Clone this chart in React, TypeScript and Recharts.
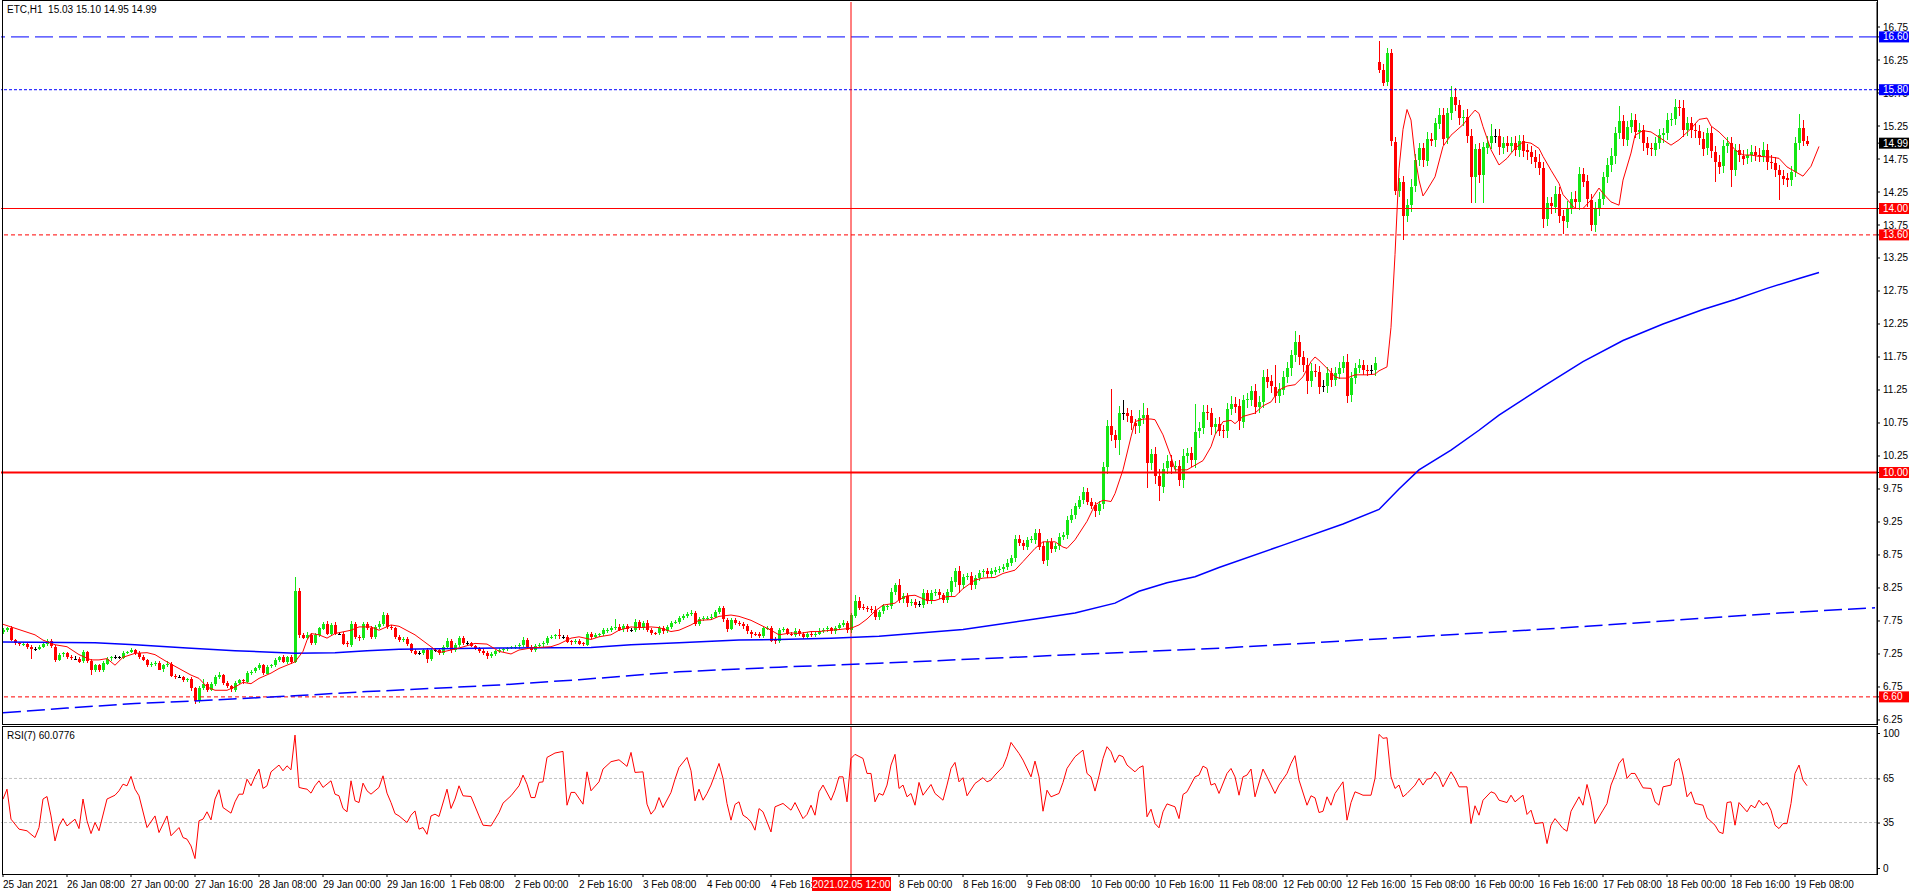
import React from "react";
import { ComposedChart, Bar, Line, XAxis, YAxis, ReferenceLine } from "recharts";

// ETC,H1 closes, one per hourly bar (weekends skipped), first bar 25 Jan 16:00
const CLOSE = [
  // 0
  7.61, 7.64, 7.46, 7.41, 7.39, 7.40, 7.36, 7.33, 7.33, 7.36, 7.40, 7.44, 7.36, 7.16, 7.24, 7.26,
  // 16
  7.20, 7.18, 7.18, 7.14, 7.28, 7.15, 7.01, 7.08, 7.00, 7.11, 7.18, 7.20, 7.20, 7.20, 7.27, 7.28,
  // 32
  7.31, 7.27, 7.21, 7.16, 7.08, 7.10, 7.12, 7.02, 7.08, 7.10, 6.92, 6.90, 6.90, 6.86, 6.87, 6.73,
  // 48
  6.54, 6.74, 6.80, 6.71, 6.80, 6.90, 6.93, 6.81, 6.76, 6.71, 6.81, 6.85, 6.83, 6.96, 6.98, 7.03,
  // 64
  7.08, 6.96, 7.06, 7.08, 7.16, 7.20, 7.13, 7.20, 7.13, 8.21, 7.54, 7.50, 7.54, 7.42, 7.54, 7.64,
  // 80
  7.71, 7.56, 7.69, 7.56, 7.56, 7.41, 7.39, 7.71, 7.51, 7.49, 7.70, 7.64, 7.51, 7.66, 7.71, 7.84,
  // 96
  7.66, 7.64, 7.51, 7.46, 7.48, 7.40, 7.30, 7.26, 7.26, 7.31, 7.18, 7.31, 7.31, 7.27, 7.36, 7.45,
  // 112
  7.31, 7.39, 7.49, 7.41, 7.41, 7.37, 7.34, 7.30, 7.27, 7.22, 7.25, 7.29, 7.31, 7.32, 7.34, 7.35,
  // 128
  7.36, 7.38, 7.46, 7.36, 7.31, 7.37, 7.39, 7.41, 7.49, 7.51, 7.53, 7.51, 7.51, 7.44, 7.43, 7.45,
  // 144
  7.41, 7.40, 7.56, 7.51, 7.54, 7.55, 7.61, 7.62, 7.65, 7.66, 7.62, 7.67, 7.62, 7.62, 7.74, 7.65,
  // 160
  7.72, 7.62, 7.57, 7.56, 7.64, 7.60, 7.66, 7.72, 7.73, 7.79, 7.82, 7.85, 7.87, 7.71, 7.78, 7.79,
  // 176
  7.80, 7.81, 7.88, 7.94, 7.77, 7.64, 7.77, 7.72, 7.70, 7.67, 7.59, 7.56, 7.55, 7.52, 7.64, 7.65,
  // 192
  7.46, 7.44, 7.61, 7.63, 7.56, 7.54, 7.60, 7.55, 7.51, 7.56, 7.54, 7.56, 7.60, 7.62, 7.64, 7.59,
  // 208
  7.64, 7.69, 7.72, 7.61, 7.84, 8.06, 7.96, 7.95, 7.93, 7.92, 7.81, 7.89, 7.97, 7.98, 8.19, 8.30,
  // 224
  8.08, 8.13, 8.02, 8.04, 8.00, 8.00, 8.18, 8.06, 8.17, 8.19, 8.14, 8.07, 8.19, 8.35, 8.51, 8.30,
  // 240
  8.42, 8.43, 8.30, 8.40, 8.48, 8.50, 8.45, 8.50, 8.53, 8.54, 8.57, 8.63, 8.70, 8.99, 8.93, 8.88,
  // 256
  8.98, 8.99, 9.09, 8.88, 8.66, 8.94, 8.84, 8.88, 9.02, 9.05, 9.28, 9.36, 9.49, 9.59, 9.71, 9.56,
  // 272
  9.50, 9.41, 9.52, 10.08, 10.70, 10.57, 10.49, 10.90, 10.90, 10.85, 10.75, 10.70, 10.82, 10.87, 10.14, 10.28,
  // 288
  9.94, 9.79, 10.06, 10.17, 10.08, 10.10, 9.89, 10.25, 10.29, 10.19, 10.62, 10.67, 10.92, 10.90, 10.69, 10.74,
  // 304
  10.64, 10.63, 10.96, 11.04, 11.00, 10.77, 11.10, 11.11, 11.24, 11.00, 11.07, 11.45, 11.38, 11.30, 11.16, 11.26,
  // 320
  11.45, 11.58, 11.78, 11.98, 11.75, 11.63, 11.39, 11.54, 11.53, 11.31, 11.31, 11.50, 11.40, 11.50, 11.59, 11.68,
  // 336
  11.17, 11.43, 11.58, 11.63, 11.56, 11.55, 11.55, 11.66, 16.10, 15.91, 16.35, 15.01, 14.27, 14.40, 13.88, 14.05,
  // 352
  14.33, 14.73, 14.91, 14.73, 15.06, 15.03, 15.29, 15.42, 15.06, 15.44, 15.69, 15.57, 15.37, 15.39, 15.10, 14.48,
  // 368
  14.90, 14.50, 14.93, 15.00, 15.10, 15.10, 14.93, 15.00, 14.95, 15.00, 14.90, 15.03, 14.88, 14.85, 14.78, 14.70,
  // 384
  14.61, 13.84, 14.08, 14.03, 14.22, 13.88, 13.80, 14.00, 14.15, 14.10, 14.53, 14.41, 14.13, 13.75, 14.00, 14.15,
  // 400
  14.48, 14.66, 14.79, 15.14, 15.32, 15.04, 15.24, 15.34, 15.16, 15.19, 14.99, 14.91, 14.89, 14.99, 15.11, 15.14,
  // 416
  15.34, 15.36, 15.54, 15.52, 15.19, 15.29, 15.19, 15.17, 15.06, 14.91, 15.14, 14.86, 14.71, 14.63, 14.94, 14.99,
  // 432
  14.58, 14.88, 14.80, 14.76, 14.81, 14.86, 14.81, 14.80, 14.89, 14.71, 14.69, 14.58, 14.50, 14.46, 14.43, 14.55,
  // 448
  14.99, 15.22, 15.03, 14.99,
];

// upper / lower wick length above / below the body, in cents
const UP_WICK = [
  3, 2, 4, 2, 2, 3, 2, 2, 3, 2, 3, 4, 3, 2, 3, 2,
  2, 3, 4, 2, 3, 2, 3, 2, 2, 3, 2, 2, 3, 2, 3, 2,
  3, 2, 2, 3, 2, 3, 2, 3, 2, 4, 3, 2, 3, 2, 2, 3,
  2, 3, 7, 3, 2, 3, 4, 2, 3, 2, 3, 2, 2, 3, 2, 3,
  3, 2, 3, 2, 3, 2, 3, 2, 3, 21, 4, 3, 4, 3, 3, 2,
  3, 4, 3, 5, 3, 2, 3, 4, 3, 3, 3, 4, 3, 3, 4, 5,
  3, 3, 2, 3, 3, 3, 2, 3, 3, 2, 3, 2, 3, 2, 3, 4,
  3, 2, 3, 3, 3, 2, 2, 2, 3, 2, 3, 2, 3, 2, 2, 2,
  2, 3, 4, 3, 2, 3, 2, 3, 3, 2, 3, 10, 3, 3, 2, 3,
  2, 2, 3, 3, 3, 2, 3, 3, 3, 12, 4, 3, 3, 3, 4, 3,
  3, 4, 3, 2, 3, 3, 3, 3, 4, 3, 3, 3, 4, 3, 3, 3,
  3, 4, 3, 4, 4, 3, 2, 3, 3, 4, 3, 3, 2, 3, 4, 3,
  3, 4, 3, 3, 2, 3, 4, 3, 3, 2, 3, 3, 4, 3, 3, 2,
  3, 3, 4, 3, 3, 8, 5, 4, 3, 4, 5, 3, 4, 3, 6, 2,
  8, 4, 5, 4, 4, 5, 6, 4, 5, 4, 5, 4, 5, 6, 5, 8,
  4, 5, 6, 4, 5, 4, 5, 6, 4, 5, 4, 6, 5, 7, 6, 5,
  4, 5, 6, 5, 6, 5, 7, 5, 6, 5, 6, 8, 5, 6, 7, 6,
  5, 6, 5, 8, 9, 56, 8, 10, 20, 8, 10, 6, 12, 18, 10, 8,
  10, 12, 8, 9, 10, 8, 9, 10, 8, 10, 42, 10, 10, 10, 8, 9,
  10, 8, 10, 12, 10, 12, 8, 10, 7, 10, 9, 10, 12, 10, 33, 10,
  9, 10, 8, 17, 10, 9, 10, 12, 10, 8, 9, 10, 9, 10, 8, 9,
  12, 10, 8, 9, 8, 7, 8, 9, 32, 9, 8, 7, 8, 6, 10, 10,
  12, 9, 9, 8, 10, 9, 8, 10, 11, 9, 17, 13, 7, 10, 12, 10,
  8, 10, 8, 10, 18, 10, 10, 9, 10, 9, 10, 8, 9, 10, 9, 10,
  12, 10, 9, 10, 12, 10, 9, 12, 10, 12, 10, 9, 10, 9, 10, 10,
  8, 10, 12, 9, 24, 10, 9, 10, 9, 10, 8, 10, 9, 10, 9, 8,
  10, 8, 12, 10, 12, 10, 9, 10, 9, 10, 8, 10, 9, 10, 10, 9,
  10, 9, 10, 8, 9, 10, 9, 10, 12, 9, 10, 9, 8, 9, 8, 9,
  10, 21, 12, 7,
];

const DOWN_WICK = [
  2, 3, 2, 3, 2, 2, 3, 15, 3, 2, 2, 3, 2, 3, 2, 3,
  3, 2, 2, 3, 2, 4, 8, 3, 2, 3, 2, 3, 2, 3, 2, 2,
  2, 3, 3, 2, 3, 2, 3, 2, 4, 3, 2, 3, 2, 3, 3, 4,
  5, 4, 3, 3, 2, 4, 3, 3, 2, 4, 3, 2, 3, 2, 3, 2,
  2, 3, 2, 3, 2, 3, 2, 3, 3, 2, 5, 3, 3, 4, 3, 3,
  3, 3, 4, 3, 3, 3, 3, 4, 3, 4, 3, 3, 4, 3, 3, 3,
  3, 2, 3, 3, 3, 3, 4, 3, 3, 3, 7, 3, 3, 3, 3, 3,
  4, 3, 3, 3, 3, 2, 3, 3, 3, 4, 3, 3, 2, 3, 3, 2,
  3, 3, 3, 4, 3, 3, 2, 3, 3, 2, 3, 3, 3, 3, 4, 3,
  3, 3, 3, 3, 2, 3, 3, 4, 3, 3, 2, 3, 3, 4, 3, 3,
  4, 3, 4, 3, 3, 4, 3, 3, 2, 3, 3, 3, 3, 4, 3, 3,
  3, 3, 2, 3, 4, 5, 3, 3, 3, 4, 4, 7, 3, 3, 3, 3,
  3, 4, 3, 3, 3, 2, 3, 3, 4, 3, 3, 3, 2, 3, 3, 3,
  3, 3, 3, 4, 4, 4, 5, 4, 4, 5, 5, 4, 4, 5, 5, 4,
  6, 5, 6, 4, 5, 4, 5, 6, 5, 4, 5, 4, 5, 6, 8, 12,
  6, 5, 8, 6, 5, 6, 5, 4, 6, 5, 5, 4, 5, 6, 5, 6,
  5, 5, 8, 6, 5, 8, 6, 5, 6, 5, 6, 5, 6, 5, 6, 5,
  6, 8, 6, 8, 10, 10, 12, 22, 10, 8, 10, 12, 10, 8, 37, 10,
  12, 22, 10, 9, 10, 9, 10, 12, 10, 10, 12, 10, 9, 10, 12, 10,
  9, 10, 10, 9, 10, 12, 10, 12, 10, 12, 10, 9, 10, 10, 11, 10,
  9, 10, 12, 10, 12, 10, 20, 10, 9, 12, 9, 10, 10, 9, 8, 9,
  11, 10, 9, 8, 8, 9, 8, 9, 5, 6, 5, 6, 7, 10, 36, 9,
  10, 8, 9, 10, 8, 9, 10, 9, 10, 9, 10, 9, 10, 12, 10, 39,
  39, 12, 41, 10, 10, 10, 12, 10, 10, 9, 10, 12, 10, 12, 10, 9,
  10, 14, 10, 12, 10, 10, 18, 10, 9, 10, 12, 9, 10, 9, 10, 12,
  10, 9, 10, 12, 9, 10, 9, 10, 9, 10, 12, 10, 9, 10, 9, 12,
  10, 9, 10, 12, 10, 9, 12, 10, 10, 12, 10, 9, 31, 10, 9, 10,
  25, 9, 10, 10, 9, 10, 9, 10, 10, 12, 9, 10, 37, 10, 10, 9,
  8, 10, 9, 4,
];

// opens that differ from the previous close (first bar, weekend gap)
const OPEN_FIXED: Record<number, number> = { 0: 7.58, 344: 16.22 };

// [bar, value]
const RED_MA = [
  [0, 7.70], [4, 7.62], [8, 7.54], [10, 7.46], [13, 7.39], [16, 7.36], [19, 7.24], [22, 7.16], [24, 7.16],
  [26, 7.18], [28, 7.08], [30, 7.20], [33, 7.26], [36, 7.27], [38, 7.24], [41, 7.13], [44, 7.03], [47, 6.93],
  [49, 6.88], [51, 6.75], [53, 6.70], [56, 6.70], [58, 6.75], [60, 6.82], [62, 6.80], [64, 6.88], [67, 6.96],
  [69, 7.03], [73, 7.13], [75, 7.29], [76, 7.46], [77, 7.56], [79, 7.54], [81, 7.49], [83, 7.56], [87, 7.61],
  [89, 7.66], [92, 7.66], [94, 7.61], [97, 7.69], [99, 7.67], [103, 7.54], [107, 7.36], [109, 7.27], [112, 7.31],
  [114, 7.34], [118, 7.41], [121, 7.40], [124, 7.29], [127, 7.25], [129, 7.31], [132, 7.34], [134, 7.35],
  [137, 7.36], [139, 7.40], [142, 7.49], [144, 7.51], [147, 7.47], [149, 7.51], [152, 7.54], [154, 7.61],
  [157, 7.66], [159, 7.65], [162, 7.66], [164, 7.65], [167, 7.59], [169, 7.61], [172, 7.69], [174, 7.76],
  [177, 7.77], [179, 7.82], [182, 7.84], [184, 7.82], [187, 7.76], [189, 7.70], [192, 7.61], [194, 7.54],
  [197, 7.57], [199, 7.56], [202, 7.59], [204, 7.59], [207, 7.61], [209, 7.62], [212, 7.64], [214, 7.69],
  [216, 7.78], [218, 7.90], [220, 7.99], [223, 8.02], [224, 8.07], [226, 8.13], [228, 8.14], [231, 8.06],
  [233, 8.06], [236, 8.12], [238, 8.12], [240, 8.24], [243, 8.37], [245, 8.40], [248, 8.41], [250, 8.47],
  [253, 8.52], [255, 8.65], [258, 8.85], [260, 8.95], [263, 8.95], [265, 8.87], [266, 8.85], [268, 8.98],
  [271, 9.26], [273, 9.51], [275, 9.58], [277, 9.56], [278, 9.68], [280, 10.04], [282, 10.54], [283, 10.77],
  [285, 10.81], [287, 10.81], [288, 10.80], [290, 10.57], [292, 10.24], [293, 10.04], [296, 10.04], [298, 10.11],
  [300, 10.18], [302, 10.39], [303, 10.57], [305, 10.77], [307, 10.79], [308, 10.74], [310, 10.85], [313, 10.90],
  [315, 11.01], [317, 11.07], [319, 11.25], [321, 11.31], [323, 11.33], [325, 11.45], [327, 11.68], [328, 11.75],
  [329, 11.70], [331, 11.58], [333, 11.45], [334, 11.43], [336, 11.43], [338, 11.48], [341, 11.48], [343, 11.49],
  [344, 11.54], [346, 11.60], [347, 12.20], [348, 13.30], [349, 14.60], [350, 15.20], [351, 15.50], [352, 15.34],
  [353, 14.79], [354, 14.43], [355, 14.19], [356, 14.28], [358, 14.48], [360, 14.94], [362, 15.11], [365, 15.27],
  [367, 15.42], [368, 15.49], [369, 15.44], [370, 15.24], [372, 14.89], [374, 14.66], [376, 14.76], [378, 14.91],
  [380, 15.01], [382, 14.99], [384, 14.91], [385, 14.79], [387, 14.58], [389, 14.38], [390, 14.21], [393, 14.00],
  [395, 14.00], [397, 14.13], [399, 14.31], [400, 14.23], [402, 14.10], [404, 14.05], [405, 14.43], [407, 14.84],
  [408, 15.11], [410, 15.18], [412, 15.16], [415, 15.04], [417, 14.96], [419, 15.04], [422, 15.21], [424, 15.35],
  [426, 15.37], [427, 15.25], [429, 15.16], [431, 15.04], [433, 14.89], [435, 14.81], [437, 14.81], [439, 14.79],
  [442, 14.78], [444, 14.76], [446, 14.63], [448, 14.56], [450, 14.49], [452, 14.64], [454, 14.94],
];

const BLUE_MA = [
  [0, 7.43], [23, 7.42], [33, 7.39], [46, 7.34], [58, 7.30], [73, 7.26], [83, 7.27], [91, 7.30], [99, 7.32],
  [124, 7.34], [147, 7.35], [157, 7.39], [169, 7.42], [184, 7.46], [194, 7.47], [207, 7.49], [219, 7.52],
  [240, 7.62], [258, 7.78], [268, 7.87], [278, 8.02], [284, 8.20], [291, 8.33], [298, 8.42], [304, 8.56],
  [320, 8.90], [335, 9.22], [344, 9.44], [349, 9.75], [354, 10.04], [362, 10.34], [369, 10.64], [374, 10.87],
  [385, 11.30], [395, 11.68], [405, 12.00], [415, 12.25], [425, 12.47], [433, 12.62], [441, 12.79], [449, 12.94],
  [454, 13.03],
];

const BLUE_DASH_MA = [
  [0, 6.36], [16, 6.43], [33, 6.50], [49, 6.54], [74, 6.62], [91, 6.68], [108, 6.73], [124, 6.78], [144, 6.86],
  [169, 6.98], [194, 7.05], [219, 7.11], [305, 7.34], [381, 7.61], [396, 7.67], [444, 7.87], [468, 7.95],
];

const RSI = [
  [0, 50.9], [1, 57.7], [2, 37.3], [4, 30.5], [6, 29.4], [7, 27], [8, 24.8], [9, 31.6], [10, 51], [11, 52.7],
  [12, 39.5], [13, 22.5], [14, 32.7], [15, 37.7], [16, 32.7], [18, 37.3], [19, 30.9], [20, 51], [21, 36.2],
  [22, 27.5], [23, 35], [24, 29.4], [26, 51], [28, 53.6], [29, 56.6], [30, 61.1], [31, 60], [32, 66.4], [33, 57.7],
  [34, 53.2], [36, 31.6], [38, 39.5], [39, 28.2], [41, 39.5], [42, 26], [44, 31.6], [45, 24.8], [46, 23.7],
  [47, 19.1], [48, 10.5], [49, 36.2], [50, 37.3], [51, 42.3], [52, 36.8], [53, 51], [54, 57.3], [55, 45.2],
  [57, 41.4], [58, 49.1], [59, 54.3], [60, 54.3], [61, 64.5], [62, 60], [63, 66.4], [64, 71.4], [65, 58.2],
  [66, 60], [67, 69.5], [69, 74.1], [70, 70.2], [71, 73.6], [72, 70.9], [73, 94.5], [74, 58.9], [75, 58.2],
  [76, 57.7], [77, 55], [78, 60], [79, 63.4], [80, 58.9], [82, 63.4], [83, 54.3], [84, 53.2], [85, 44.6],
  [86, 42.3], [87, 63.4], [88, 49.8], [89, 48.6], [90, 61.8], [91, 56.6], [92, 54.3], [94, 58.9], [95, 66.8],
  [96, 55], [97, 48.6], [98, 41.1], [99, 39.5], [101, 35], [102, 40], [103, 42.9], [104, 30.5], [105, 31.6],
  [106, 27], [107, 39.5], [108, 40.7], [109, 39.1], [111, 57.7], [112, 44.6], [113, 51], [114, 60], [115, 53.2],
  [117, 52.7], [119, 39.5], [120, 33.2], [122, 32.7], [124, 41.8], [125, 48.2], [127, 53.2], [129, 60],
  [130, 67.3], [131, 61.1], [132, 52], [133, 52], [134, 62.3], [135, 62.7], [136, 79.3], [138, 82.3], [140, 83.4],
  [141, 46.8], [142, 55.5], [143, 55.5], [145, 47.5], [146, 69.5], [147, 56.6], [149, 62.7], [150, 71.4],
  [152, 76.4], [154, 77.7], [156, 73.2], [157, 82.7], [158, 69.1], [160, 69.5], [161, 47.5], [162, 40.7],
  [163, 44.1], [164, 52], [165, 45.2], [167, 55.5], [168, 64.5], [169, 72.5], [171, 79.3], [172, 70.2],
  [173, 49.8], [174, 57.7], [175, 50.2], [176, 54.8], [177, 60.5], [179, 75.2], [180, 65], [181, 48], [182, 36.6],
  [183, 47.3], [184, 49.1], [185, 40], [186, 38.2], [187, 35.5], [188, 29.8], [189, 44.5], [190, 42.3],
  [192, 28.6], [193, 45.7], [195, 48], [196, 45.7], [197, 43.4], [198, 48.6], [200, 37.7], [201, 40.5],
  [202, 46.8], [203, 40], [204, 55.9], [205, 60.5], [207, 50.2], [208, 57], [209, 66.1], [210, 66.1], [211, 49.1],
  [212, 78.6], [213, 81.4], [215, 78.6], [216, 68.4], [217, 68.4], [218, 49.1], [219, 54.8], [220, 53.6],
  [221, 60.5], [222, 74.1], [223, 81.4], [224, 58.2], [225, 60.5], [226, 52.5], [227, 54.8], [228, 46.8],
  [229, 62.3], [230, 53.6], [232, 60.9], [233, 54.8], [235, 50.2], [236, 60.5], [237, 71.8], [238, 75.9],
  [239, 62.7], [240, 65.5], [241, 53.2], [243, 61.6], [245, 65.5], [246, 62.7], [247, 63.9], [248, 67.3],
  [250, 73], [251, 79.8], [252, 89.5], [254, 82], [255, 77.5], [257, 66.1], [258, 76.8], [259, 66.1], [260, 42.7],
  [261, 57], [262, 52.5], [264, 54.8], [265, 62.3], [266, 71.8], [267, 75.9], [268, 79.8], [270, 84.3],
  [271, 68.4], [272, 66.1], [273, 56.4], [274, 66.8], [275, 78.6], [276, 86.6], [277, 83.2], [278, 75.9],
  [279, 80.9], [280, 79.8], [281, 74.1], [283, 69.5], [284, 72.3], [285, 73.6], [286, 38.9], [287, 44.1],
  [288, 34.3], [289, 31.4], [290, 42.3], [291, 47.7], [293, 45.7], [294, 37.7], [295, 54.1], [296, 55.9],
  [298, 66.1], [299, 67.3], [300, 73.4], [301, 71.8], [302, 60.5], [303, 61.6], [304, 54.8], [306, 68.4],
  [307, 71.8], [308, 66.1], [309, 53.6], [310, 66.1], [311, 67.3], [312, 71.4], [313, 52.5], [315, 71.4],
  [316, 66.1], [318, 54.8], [319, 60.5], [321, 68.4], [322, 75.2], [323, 80.5], [324, 63.9], [326, 46.8],
  [327, 53.2], [328, 51.8], [329, 41.8], [330, 42.7], [331, 52.5], [332, 46.8], [333, 54.8], [335, 62.7],
  [336, 36.6], [337, 48.6], [338, 55.9], [339, 54.8], [340, 53.6], [342, 53.6], [343, 65], [344, 95], [345, 92.3],
  [346, 92.7], [347, 66.1], [348, 58.2], [349, 60.5], [350, 52.5], [351, 54.8], [353, 60.5], [354, 65],
  [355, 60.5], [356, 64.5], [357, 65], [358, 69.5], [359, 66.1], [360, 59.3], [362, 69.5], [363, 65], [364, 59.3],
  [366, 59.3], [367, 34.3], [368, 46.4], [369, 40], [370, 50.2], [372, 55.9], [373, 54.8], [374, 50.2],
  [376, 48.6], [377, 53.6], [378, 49.1], [380, 53.6], [381, 40.5], [382, 43.4], [383, 34.3], [385, 35],
  [386, 20.7], [387, 33.2], [388, 37.7], [390, 30.9], [391, 29.1], [392, 42.7], [394, 52.5], [395, 46.8],
  [396, 60.9], [397, 50.2], [398, 34.3], [400, 43.4], [401, 47.9], [402, 60.5], [403, 67.3], [404, 75.2],
  [405, 78.6], [406, 65], [407, 68.4], [408, 68.4], [410, 58.6], [412, 58.2], [413, 49.1], [414, 46.8],
  [415, 59.3], [417, 60.5], [418, 76.4], [419, 78.6], [420, 67.3], [421, 52.5], [422, 55.9], [423, 48],
  [425, 46.8], [426, 38.2], [428, 33.2], [429, 28.6], [430, 27.5], [431, 48.6], [432, 49.1], [433, 33.2],
  [434, 48.6], [436, 42.3], [437, 46.8], [438, 45], [439, 50.2], [440, 46.8], [441, 48.6], [442, 43.4],
  [443, 33.2], [444, 30.9], [445, 34.3], [446, 34.3], [447, 48], [448, 68.4], [449, 74.1], [450, 63.9],
  [451, 60.08],
];

const X_TICKS = [0, 16, 32, 48, 64, 80, 96, 112, 128, 144, 160, 176, 192, 212, 224, 240, 256, 272, 288, 304,
  320, 336, 352, 368, 384, 400, 416, 432, 448];
const X_LABELS = ["25 Jan 2021", "26 Jan 08:00", "27 Jan 00:00", "27 Jan 16:00", "28 Jan 08:00", "29 Jan 00:00",
  "29 Jan 16:00", "1 Feb 08:00", "2 Feb 00:00", "2 Feb 16:00", "3 Feb 08:00", "4 Feb 00:00", "4 Feb 16:00",
  "2021.02.05 12:00", "8 Feb 00:00", "8 Feb 16:00", "9 Feb 08:00", "10 Feb 00:00", "10 Feb 16:00", "11 Feb 08:00",
  "12 Feb 00:00", "12 Feb 16:00", "15 Feb 08:00", "16 Feb 00:00", "16 Feb 16:00", "17 Feb 08:00", "18 Feb 00:00",
  "18 Feb 16:00", "19 Feb 08:00"];
const MARK_BAR = 212;

const PRICE_TICKS = [6.25, 6.75, 7.25, 7.75, 8.25, 8.75, 9.25, 9.75, 10.25, 10.75, 11.25, 11.75, 12.25, 12.75,
  13.25, 13.75, 14.25, 14.75, 15.25, 15.75, 16.25, 16.75];
const PRICE_TAGS = [
  { value: 16.6, bg: "#0000ff" },
  { value: 15.8, bg: "#0000ff" },
  { value: 14.99, bg: "#000000" },
  { value: 14.0, bg: "#ff0000" },
  { value: 13.6, bg: "#ff0000" },
  { value: 10.0, bg: "#ff0000" },
  { value: 6.6, bg: "#ff0000" },
];
const LEVELS = [
  { value: 16.6, color: "#0000ff", dash: "18 6", width: 1 },
  { value: 15.8, color: "#0000ff", dash: "3 2", width: 1 },
  { value: 14.0, color: "#ff0000", dash: undefined, width: 1 },
  { value: 13.6, color: "#ff0000", dash: "4 3", width: 1 },
  { value: 10.0, color: "#ff0000", dash: undefined, width: 2 },
  { value: 6.6, color: "#ff0000", dash: "4 3", width: 1 },
];
const RSI_TICKS = [100, 65, 35, 0];

const SLOTS = 469;
const GREEN = "#14e614";
const RED = "#ff0000";
const FONT = '"Liberation Sans", Arial, sans-serif';

const toMap = (pairs: number[][]) => {
  const m: Record<number, number> = {};
  pairs.forEach(([i, v]) => (m[i] = v));
  return m;
};
const maMap = toMap(RED_MA);
const smaMap = toMap(BLUE_MA);
const lmaMap = toMap(BLUE_DASH_MA);
const rsiMap = toMap(RSI);

const rows = Array.from({ length: SLOTS }, (_, i) => {
  const row: any = {
    i,
    ma: maMap[i] ?? null,
    sma: smaMap[i] ?? null,
    lma: lmaMap[i] ?? null,
    rsi: rsiMap[i] ?? null,
  };
  if (i < CLOSE.length) {
    const c = CLOSE[i];
    const o = OPEN_FIXED[i] ?? CLOSE[i - 1];
    const h = Math.max(o, c) + UP_WICK[i] / 100;
    const l = Math.min(o, c) - DOWN_WICK[i] / 100;
    Object.assign(row, { o, c, h, l, range: [l, h] });
  }
  return row;
});

function Candle(props: any) {
  const { x, y, width, height, payload } = props;
  if (!payload || payload.c == null || !height) return <g />;
  const { o, h, l, c } = payload;
  const k = height / (h - l);
  const cx = Math.round(x + width / 2);
  const yO = y + (h - o) * k;
  const yC = y + (h - c) * k;
  const color = c > o ? GREEN : c < o ? RED : "#000";
  const top = Math.round(Math.min(yO, yC));
  const bh = Math.max(1, Math.round(Math.abs(yO - yC)));
  return (
    <g shapeRendering="crispEdges">
      <line x1={cx + 0.5} x2={cx + 0.5} y1={y} y2={y + height} stroke={color} />
      {c === o ? (
        <line x1={cx - 1} x2={cx + 2} y1={Math.round(yO) + 0.5} y2={Math.round(yO) + 0.5} stroke="#000" />
      ) : (
        <rect x={cx - 1} y={top} width={3} height={bh} fill={color} />
      )}
    </g>
  );
}

function PriceTick(props: any) {
  const { x, y, payload } = props;
  const v = payload.value;
  const tag = PRICE_TAGS.find((t) => t.value === v);
  if (tag) {
    return (
      <g>
        <rect x={x - 4} y={y - 5.5} width={30} height={11} fill={tag.bg} />
        <text x={x} y={y} dy="0.35em" fill="#fff" fontSize={10} fontFamily={FONT}>
          {v.toFixed(2)}
        </text>
      </g>
    );
  }
  return (
    <text x={x} y={y} dy="0.35em" fill="#000" fontSize={10} fontFamily={FONT}>
      {v.toFixed(2)}
    </text>
  );
}

function RsiTick(props: any) {
  const { x, y, payload } = props;
  const v = payload.value;
  const yy = v === 100 ? y + 6 : v === 0 ? y - 6 : y;
  return (
    <g>
      <line x1={x - 6} x2={x - 3} y1={yy + 0.5} y2={yy + 0.5} stroke="#000" />
      <text x={x} y={yy} dy="0.35em" fill="#000" fontSize={10} fontFamily={FONT}>
        {v}
      </text>
    </g>
  );
}

function TimeTick(props: any) {
  const { x, y, payload } = props;
  const idx = X_TICKS.indexOf(payload.value);
  const text = X_LABELS[idx];
  if (payload.value === MARK_BAR) {
    return (
      <g>
        <rect x={x - 39} y={y - 2} width={79} height={14} fill="#ff0000" />
        <text x={x + 0.5} y={y + 9} textAnchor="middle" fill="#fff" fontSize={10} fontFamily={FONT}>
          {text}
        </text>
      </g>
    );
  }
  return (
    <text x={x} y={y + 9} fill="#000" fontSize={10} fontFamily={FONT}>
      {text}
    </text>
  );
}

export default function App() {
  return (
    <div style={{ position: "relative", width: 1916, height: 896, background: "#fff", overflow: "hidden" }}>
      <style>{`body{margin:0;overflow:hidden}`}</style>
      <div style={{ position: "absolute", left: 0, top: 0 }}>
        <ComposedChart width={1916} height={726} data={rows} margin={{ top: 2, right: 0, bottom: 2, left: 1 }}>
          <XAxis dataKey="i" type="number" domain={[-0.5, SLOTS - 0.5]} hide />
          <YAxis
            orientation="right"
            type="number"
            width={39}
            domain={[6.189, 17.129]}
            allowDataOverflow
            ticks={[...PRICE_TICKS, ...PRICE_TAGS.map((t) => t.value)]}
            interval={0}
            tickSize={3}
            tickMargin={3}
            axisLine={{ stroke: "#000" }}
            tickLine={{ stroke: "#000" }}
            tick={(p: any) => <PriceTick {...p} />}
          />
          {LEVELS.map((lv) => (
            <ReferenceLine
              key={lv.value}
              y={lv.value}
              stroke={lv.color}
              strokeWidth={lv.width}
              strokeDasharray={lv.dash}
            />
          ))}
          <ReferenceLine x={MARK_BAR} stroke="#ff0000" />
          <Line dataKey="lma" stroke="#0000ff" strokeWidth={1.5} strokeDasharray="18 6" dot={false} activeDot={false} connectNulls isAnimationActive={false} />
          <Line dataKey="sma" stroke="#0000ff" strokeWidth={1.5} dot={false} activeDot={false} connectNulls isAnimationActive={false} />
          <Bar dataKey="range" barSize={3} shape={(p: any) => <Candle {...p} />} isAnimationActive={false} />
          <Line dataKey="ma" stroke="#ff0000" strokeWidth={1} dot={false} activeDot={false} connectNulls isAnimationActive={false} />
        </ComposedChart>
      </div>
      <div style={{ position: "absolute", left: 0, top: 726 }}>
        <ComposedChart width={1916} height={170} data={rows} margin={{ top: 1, right: 0, bottom: 0, left: 1 }}>
          <XAxis
            dataKey="i"
            type="number"
            domain={[-0.5, SLOTS - 0.5]}
            ticks={X_TICKS}
            interval={0}
            height={22}
            tickSize={3}
            tickMargin={2}
            axisLine={false}
            tickLine={{ stroke: "#000" }}
            tick={(p: any) => <TimeTick {...p} />}
          />
          <YAxis
            orientation="right"
            type="number"
            width={39}
            domain={[0, 100]}
            ticks={RSI_TICKS}
            interval={0}
            tickSize={3}
            tickMargin={3}
            axisLine={{ stroke: "#000" }}
            tickLine={false}
            tick={(p: any) => <RsiTick {...p} />}
          />
          <ReferenceLine y={65} stroke="#c0c0c0" strokeDasharray="3 2" />
          <ReferenceLine y={35} stroke="#c0c0c0" strokeDasharray="3 2" />
          <ReferenceLine x={MARK_BAR} stroke="#ff0000" />
          <Line dataKey="rsi" stroke="#ff0000" strokeWidth={1} dot={false} activeDot={false} connectNulls isAnimationActive={false} />
        </ComposedChart>
      </div>
      {/* panel frames */}
      <div style={{ position: "absolute", left: 2, top: 0, width: 1876, height: 725, border: "1px solid #000", boxSizing: "border-box", pointerEvents: "none" }} />
      <div style={{ position: "absolute", left: 2, top: 726, width: 1876, height: 149, border: "1px solid #000", boxSizing: "border-box", pointerEvents: "none" }} />
      <div style={{ position: "absolute", left: 7, top: 4, fontFamily: FONT, fontSize: 10, whiteSpace: "pre", color: "#000" }}>
        {"ETC,H1  15.03 15.10 14.95 14.99"}
      </div>
      <div style={{ position: "absolute", left: 7, top: 730, fontFamily: FONT, fontSize: 10, color: "#000" }}>
        RSI(7) 60.0776
      </div>
    </div>
  );
}
